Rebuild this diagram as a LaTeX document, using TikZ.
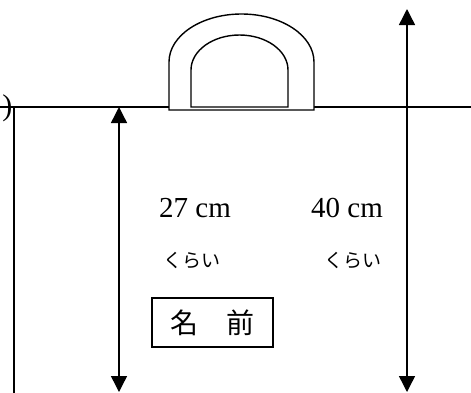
\documentclass[tikz,border=0pt]{standalone}
\usepackage{fontspec}
\setmainfont{Liberation Serif}
\newfontfamily\jpfont{Noto Sans CJK JP}
\usetikzlibrary{arrows.meta,positioning}

\begin{document}
\begin{tikzpicture}[x=1pt,y=-1pt,
    line width=1.4pt,
    dim/.style={{Triangle[width=16pt,length=16pt]}-{Triangle[width=16pt,length=16pt]}},
    size/.style={font=\fontsize{29}{31}\selectfont, inner sep=0pt},
    about/.style={font=\jpfont\fontsize{19}{21}\selectfont, inner sep=0pt},
    namebox/.style={draw, font=\jpfont\fontsize{28}{30}\selectfont, minimum width=121pt, minimum height=49pt, inner sep=0pt}]
  \useasboundingbox (0,0) rectangle (471,392);
  % bag outline
  \coordinate (tl) at (14,107);
  \coordinate (bl) at (14,395);
  \coordinate (le) at (0,107);
  \coordinate (re) at (471,107);
  \draw (le) -- (re);
  \draw (tl) -- (bl);
  \node (paren) [anchor=east, inner sep=0pt, font=\fontsize{30}{32}\selectfont] at (13,108) {)};
  % handle
  \draw[fill=white] (169,110) -- (169,62) arc[start angle=180, end angle=360, x radius=72.5, y radius=48]
    -- (314,110) -- cycle;
  \draw (191,107) -- (191,70) arc[start angle=180, end angle=360, x radius=48.5, y radius=35]
    -- (288,107) -- cycle;
  % dimensions
  \coordinate (aTop) at (119,107);
  \coordinate (aBot) at (119,392);
  \coordinate (bTop) at (407,9);
  \coordinate (bBot) at (407,392);
  \draw[dim] (aBot) -- (aTop);
  \draw[dim] (bBot) -- (bTop);
  % labels
  \node (w27) [size] at (195,208) {27 cm};
  \node (w40) [size] at (347,208) {40 cm};
  \node (a27) [about] at (192,260) {くらい};
  \node (a40) [about] at (353,260) {くらい};
  \node (name) [namebox] at (212.5,322.5) {名　前};
\end{tikzpicture}
\end{document}
